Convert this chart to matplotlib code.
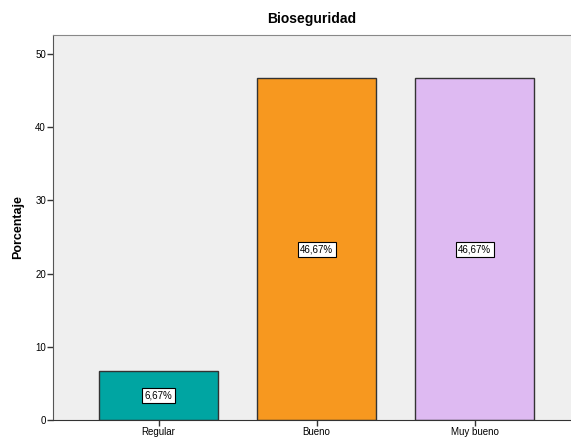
import matplotlib
matplotlib.use('Agg')
import matplotlib.pyplot as plt

plt.rcParams['font.family'] = ['Liberation Sans', 'DejaVu Sans']

categories = ['Regular', 'Bueno', 'Muy bueno']
percentages = [6.67, 46.67, 46.67]
bar_labels = ['6,67%', '46,67%', '46,67%']
colors = ['#00A5A2', '#F7981F', '#DEBAF2']

fig = plt.figure(figsize=(5.71, 4.37), dpi=100)
ax = fig.add_axes([53 / 571, 17 / 437, 1 - 53 / 571, 385 / 437])
ax.set_facecolor('#EFEFEF')

x = range(len(categories))
ax.bar(x, percentages, width=0.753, color=colors, edgecolor='#333333', linewidth=1)

for i, v in enumerate(percentages):
    ax.text(i, v / 2, bar_labels[i], ha='center', va='center', fontsize=7,
            bbox=dict(boxstyle='square,pad=0.25', facecolor='white', edgecolor='black', linewidth=0.8))

ax.set_xlim(-0.668, 2.61)
ax.set_ylim(0, 52.6)
ax.set_yticks([0, 10, 20, 30, 40, 50])
ax.set_xticks(list(x))
ax.set_xticklabels(categories)
ax.tick_params(axis='y', labelsize=7, length=4, width=1, color='#333333', pad=1)
ax.tick_params(axis='x', labelsize=7, length=4, width=1, color='#333333', pad=1)

ax.spines['right'].set_visible(False)
ax.spines['top'].set_color('#888888')
ax.spines['left'].set_color('#555555')
ax.spines['bottom'].set_color('#333333')

ax.set_ylabel('Porcentaje', fontsize=9, fontweight='bold', labelpad=8)
ax.set_title('Bioseguridad', fontsize=10, fontweight='bold', pad=9)

fig.savefig('out.png', dpi=100)
